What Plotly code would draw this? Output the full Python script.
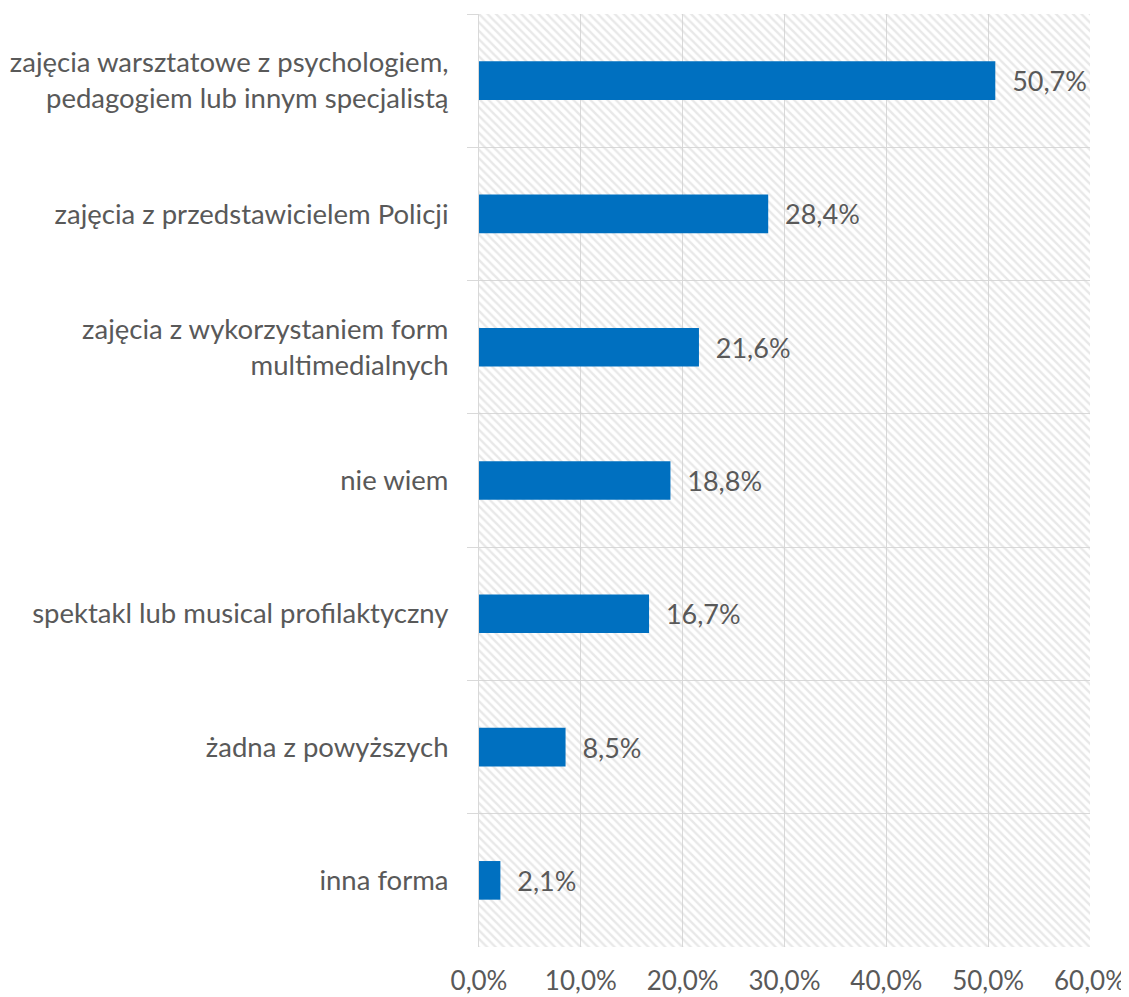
import plotly.graph_objects as go

categories = [
    "zajęcia warsztatowe z psychologiem,<br>pedagogiem lub innym specjalistą",
    "zajęcia z przedstawicielem Policji",
    "zajęcia z wykorzystaniem form<br>multimedialnych",
    "nie wiem",
    "spektakl lub musical profilaktyczny",
    "żadna z powyższych",
    "inna forma",
]
values = [50.7, 28.4, 21.6, 18.8, 16.7, 8.5, 2.1]
tick_values = [0, 10, 20, 30, 40, 50, 60]
tick_labels = ["0,0%", "10,0%", "20,0%", "30,0%", "40,0%", "50,0%", "60,0%"]
axis_max = 60

text_color = "#595959"
grid_color = "#d9d9d9"
font_family = "Lato, 'Open Sans', sans-serif"

labels = ["\u00a0\u00a0" + f"{v:.1f}".replace(".", ",") + "%" for v in values]

fig = go.Figure()
# hatched plot background
fig.add_trace(go.Bar(
    y=categories, x=[axis_max] * len(categories), orientation="h", width=1,
    marker=dict(color="rgba(0,0,0,0)", line=dict(width=0),
                pattern=dict(shape="\\", size=6, solidity=0.4,
                             fgcolor="#d2d2d2", bgcolor="rgba(0,0,0,0)", fillmode="overlay")),
    hoverinfo="skip", showlegend=False,
))
fig.add_trace(go.Bar(
    y=categories, x=values, orientation="h", width=0.29,
    marker=dict(color="#0070C0", line=dict(width=0)),
    text=labels, textposition="outside", cliponaxis=False,
    textfont=dict(color=text_color, size=27, family=font_family),
    showlegend=False,
))

# the page body has an 8px default margin, so the figure is sized to fit the window
fig.update_layout(
    width=1121, height=989,
    margin=dict(l=471, r=39, t=6, b=50),
    paper_bgcolor="white", plot_bgcolor="white",
    barmode="overlay",
    font=dict(family=font_family, color=text_color, size=27),
    xaxis=dict(range=[0, axis_max], tickvals=tick_values, ticktext=tick_labels,
               showgrid=True, gridcolor=grid_color, gridwidth=1, automargin=False,
               zeroline=False, showline=False, ticks="", ticklabelstandoff=16,
               ticklabeloverflow="allow",
               tickfont=dict(size=26, color=text_color)),
    yaxis=dict(autorange="reversed", tickson="boundaries", showgrid=True, automargin=False,
               gridcolor=grid_color, gridwidth=1, ticks="outside", ticklen=11,
               tickcolor=grid_color, showline=True, linecolor=grid_color,
               ticklabelstandoff=24, ticklabeloverflow="allow",
               tickfont=dict(size=27.5, color=text_color)),
)

fig.write_html("out.html")
